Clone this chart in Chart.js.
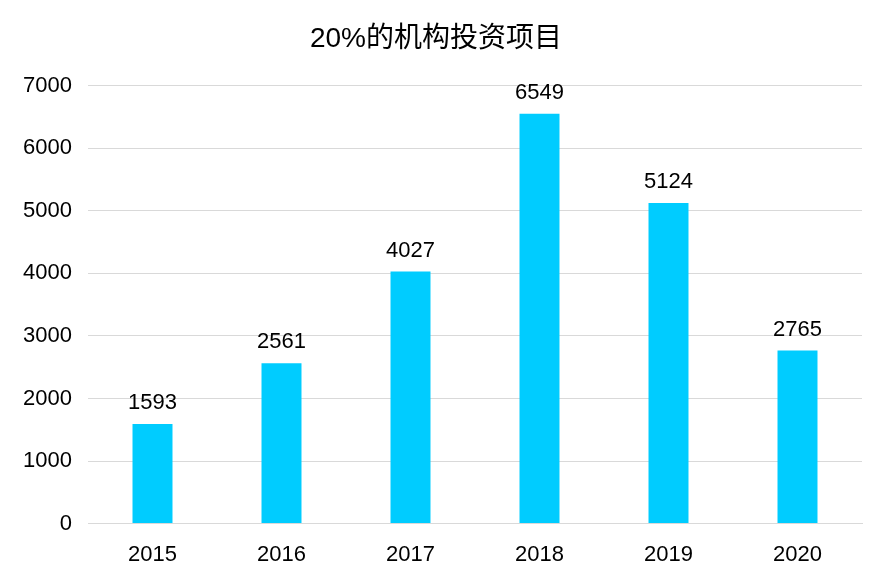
<!DOCTYPE html>
<html>
<head>
<meta charset="utf-8">
<script src="https://cdn.jsdelivr.net/npm/chart.js@4/dist/chart.umd.min.js"></script>
<style>
  html, body { margin: 0; padding: 0; background: #fff; }
  #wrap { width: 885px; height: 587px; }
</style>
</head>
<body>
<div id="wrap"><canvas id="chart" width="885" height="587"></canvas></div>
<script>
const years = ['2015', '2016', '2017', '2018', '2019', '2020'];
const projects = [1593, 2561, 4027, 6549, 5124, 2765];
const yTicks = [0, 1000, 2000, 3000, 4000, 5000, 6000, 7000];

const FONT = '"Liberation Sans", Arial, "Noto Sans CJK SC", sans-serif';

// draw value above each bar
const barLabels = {
  id: 'barLabels',
  afterDatasetsDraw(chart) {
    const ctx = chart.ctx;
    const meta = chart.getDatasetMeta(0);
    ctx.save();
    ctx.font = '22px ' + FONT;
    ctx.fillStyle = '#000';
    ctx.textAlign = 'center';
    ctx.textBaseline = 'bottom';
    meta.data.forEach((bar, i) => {
      ctx.fillText(String(projects[i]), bar.x, bar.y - 10);
    });
    ctx.restore();
  }
};

new Chart(document.getElementById('chart').getContext('2d'), {
  type: 'bar',
  data: {
    labels: years,
    datasets: [{
      data: projects,
      backgroundColor: '#00CCFF',
      barPercentage: 0.31,
      categoryPercentage: 1.0
    }]
  },
  options: {
    responsive: false,
    animation: false,
    layout: { padding: { left: 10, right: 23, top: 10, bottom: 9 } },
    plugins: {
      legend: { display: false },
      tooltip: { enabled: false },
      title: {
        display: true,
        text: '20%的机构投资项目',
        color: '#000',
        font: { family: FONT, size: 28, weight: 'normal' },
        padding: { top: 12, bottom: 30 }
      }
    },
    scales: {
      x: {
        grid: { display: false },
        border: { color: '#d9d9d9', width: 1 },
        ticks: { color: '#000', font: { family: FONT, size: 22 }, padding: 10 }
      },
      y: {
        min: 0,
        max: 7000,
        afterBuildTicks(axis) { axis.ticks = yTicks.map(v => ({ value: v })); },
        afterFit(axis) { axis.width = 78; },
        grid: { color: '#d9d9d9', lineWidth: 1, drawTicks: false },
        border: { display: false },
        ticks: { color: '#000', font: { family: FONT, size: 22 }, padding: 16, callback: v => String(v) }
      }
    }
  },
  plugins: [barLabels]
});
</script>
</body>
</html>
